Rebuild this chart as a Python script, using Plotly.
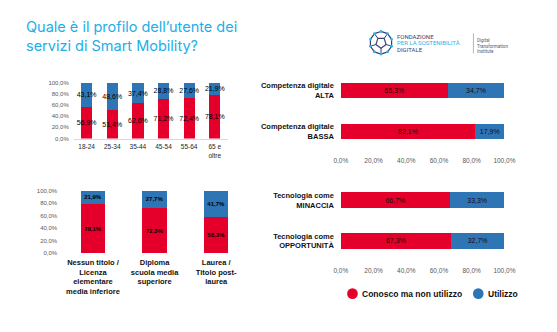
import numpy as np
import plotly.graph_objects as go

W, H = 557, 332
RED = "#E4002B"
BLUE = "#2E75B6"

# ---------------- data ----------------
age_labels = ["18-24", "25-34", "35-44", "45-54", "55-64", "65 e<br>oltre"]
age_non = [56.9, 51.4, 62.6, 71.2, 72.4, 78.1]
age_use = [43.1, 48.6, 37.4, 28.8, 27.6, 21.9]

edu_labels = ["Nessun titolo /<br>Licenza<br>elementare<br>media inferiore",
              "Diploma<br>scuola media<br>superiore",
              "Laurea /<br>Titolo post-<br>laurea"]
edu_non = [78.1, 72.3, 58.3]
edu_use = [21.9, 27.7, 41.7]

comp_labels = ["Competenza digitale<br>ALTA", "Competenza digitale<br>BASSA"]
comp_non = [65.3, 82.1]
comp_use = [34.7, 17.9]

tech_labels = ["Tecnologia come<br>MINACCIA", "Tecnologia come<br>OPPORTUNITÀ"]
tech_non = [66.7, 67.3]
tech_use = [33.3, 32.7]

series_names = ["Conosco ma non utilizzo", "Utilizzo"]
pct_ticks = [0, 20, 40, 60, 80, 100]
title_lines = ["Quale è il profilo dell’utente dei", "servizi di Smart Mobility?"]


def fx(p):
    return p / W


def fy(p):
    return 1 - p / H


def lab(vals):
    return [f"{v:.1f}%".replace(".", ",") for v in vals]


pct_ticktext = lab(pct_ticks)

fig = go.Figure()

FONT = "Liberation Sans, Arial, sans-serif"


def add_bars(cats, series, axes, horizontal, width, tfont):
    for vals, col in series:
        kw = dict(y=cats, x=vals, orientation="h") if horizontal else dict(x=cats, y=vals)
        fig.add_trace(go.Bar(**kw, marker=dict(color=col, line=dict(width=0)), width=width,
                             text=lab(vals), textposition="inside", insidetextanchor="middle",
                             textangle=0, constraintext="none", cliponaxis=False,
                             textfont=tfont, insidetextfont=tfont,
                             xaxis=axes[0], yaxis=axes[1], showlegend=False))


add_bars(age_labels, [(age_non, RED), (age_use, BLUE)], ("x", "y"), False, 0.44,
         dict(size=7, color="#000000", family=FONT))
add_bars(edu_labels, [(edu_non, RED), (edu_use, BLUE)], ("x2", "y2"), False, 0.4,
         dict(size=6, color="#000000", family=FONT, weight="bold"))
add_bars(comp_labels, [(comp_non, RED), (comp_use, BLUE)], ("x3", "y3"), True, 0.38,
         dict(size=7, color="#1a0a0a", family=FONT))
add_bars(tech_labels, [(tech_non, RED), (tech_use, BLUE)], ("x4", "y4"), True, 0.4,
         dict(size=7, color="#1a0a0a", family=FONT))

tick_gray = "#595959"


def pct_axis(size):
    return dict(range=[0, 100], tickvals=pct_ticks, ticktext=pct_ticktext,
                showgrid=False, zeroline=False, ticks="",
                tickfont=dict(size=size, color=tick_gray, family=FONT))


layout = dict(
    width=W, height=H, margin=dict(l=0, r=0, t=0, b=0),
    paper_bgcolor="white", plot_bgcolor="rgba(0,0,0,0)",
    barmode="stack", separators=",.", showlegend=False,
    font=dict(family=FONT),
    # panel 1
    xaxis=dict(domain=[fx(69), fx(228)], anchor="y", ticks="", showgrid=False,
               showline=True, linecolor="#D9D9D9", linewidth=1,
               tickfont=dict(size=6.5, color="#262626", family=FONT), ticklabelstandoff=2),
    yaxis=dict(domain=[fy(138), fy(81)], anchor="x", ticklabelstandoff=4, **pct_axis(6)),
    # panel 2
    xaxis2=dict(domain=[fx(57), fx(248)], anchor="y2", ticks="", showgrid=False,
                tickfont=dict(size=7.5, color="#111111", family=FONT, weight="bold"),
                ticklabelstandoff=3),
    yaxis2=dict(domain=[fy(255), fy(191)], anchor="x2", ticklabelstandoff=4, **pct_axis(6)),
    # panel 3
    xaxis3=dict(domain=[fx(345), fx(514)], anchor="y3", ticklabelstandoff=3, **pct_axis(6.5)),
    yaxis3=dict(domain=[fy(152), fy(68)], anchor="x3", autorange="reversed", ticks="",
                showgrid=False, ticklabelstandoff=6,
                tickfont=dict(size=7.5, color="#111111", family=FONT, weight="bold")),
    # panel 4
    xaxis4=dict(domain=[fx(345), fx(514)], anchor="y4", ticklabelstandoff=4, **pct_axis(6.5)),
    yaxis4=dict(domain=[fy(263), fy(180)], anchor="x4", autorange="reversed", ticks="",
                showgrid=False, ticklabelstandoff=6,
                tickfont=dict(size=7.5, color="#111111", family=FONT, weight="bold")),
)
fig.update_layout(**layout)

annotations = []
shapes = []

# title
annotations.append(dict(x=fx(18), y=fy(33.5), xref="paper", yref="paper", xanchor="left",
                        yanchor="middle", align="left", showarrow=False,
                        text="<br>".join(title_lines),
                        font=dict(size=14.5, color="#22AEE6", family="Inter, Roboto, sans-serif")))

# legend (circle markers + labels)
for (cx, tx, col, name) in [(357, 365, RED, series_names[0]), (487, 495, BLUE, series_names[1])]:
    r = 5.5
    shapes.append(dict(type="circle", xref="paper", yref="paper",
                       x0=fx(cx - r), x1=fx(cx + r), y0=fy(296 + r), y1=fy(296 - r),
                       fillcolor=col, line=dict(width=0)))
    annotations.append(dict(x=fx(tx), y=fy(296), xref="paper", yref="paper", xanchor="left",
                            yanchor="middle", showarrow=False, text=name,
                            font=dict(size=8.5, color="#111111", family=FONT, weight="bold")))

# logo icon (decorative)
NAVY = "#3B3F72"
CYAN = "#2BB5E8"
cxl, cyl, R = 386.5, 40.5, 11.5
ang = np.deg2rad(90 + 36 * np.arange(10))
ox, oy = cxl + R * np.cos(ang), cyl - R * np.sin(ang)
angi = np.deg2rad(90 + 72 * np.arange(5) + 36)
ix, iy = cxl + 5.5 * np.cos(angi), cyl - 5.5 * np.sin(angi)


def path(xs, ys, close=True):
    s = "M " + " L ".join(f"{fx(a):.5f},{fy(b):.5f}" for a, b in zip(xs, ys))
    return s + (" Z" if close else "")


shapes.append(dict(type="path", xref="paper", yref="paper", path=path(ox, oy),
                   line=dict(color=NAVY, width=1.2)))
shapes.append(dict(type="path", xref="paper", yref="paper", path=path(ix, iy),
                   line=dict(color=NAVY, width=1.2)))
for k in range(5):
    j = (2 * k + 1) % 10
    shapes.append(dict(type="path", xref="paper", yref="paper",
                       path=path([ix[k], ox[j]], [iy[k], oy[j]], close=False),
                       line=dict(color=NAVY, width=1.0)))
for a, b in zip(ox, oy):
    shapes.append(dict(type="circle", xref="paper", yref="paper",
                       x0=fx(a - 1.4), x1=fx(a + 1.4), y0=fy(b + 1.4), y1=fy(b - 1.4),
                       fillcolor=CYAN, line=dict(width=0)))

logo_font = "Roboto, sans-serif"
for t, yy, col in [("FONDAZIONE", 34, NAVY), ("PER LA SOSTENIBILITÀ", 40.5, CYAN), ("DIGITALE", 47, NAVY)]:
    annotations.append(dict(x=fx(401), y=fy(yy), xref="paper", yref="paper", xanchor="left",
                            yanchor="middle", showarrow=False, text=t,
                            font=dict(size=6.0, color=col, family=logo_font)))
shapes.append(dict(type="line", xref="paper", yref="paper", x0=fx(482), x1=fx(482),
                   y0=fy(31), y1=fy(51), line=dict(color="#9AA0B4", width=0.8)))
for t, yy in [("Digital", 38), ("Transformation", 43.5), ("Institute", 49)]:
    annotations.append(dict(x=fx(484), y=fy(yy), xref="paper", yref="paper", xanchor="left",
                            yanchor="middle", showarrow=False, text=t,
                            font=dict(size=4.5, color="#555a70", family=logo_font)))

fig.update_layout(annotations=annotations, shapes=shapes)
fig.write_html("out.html")
